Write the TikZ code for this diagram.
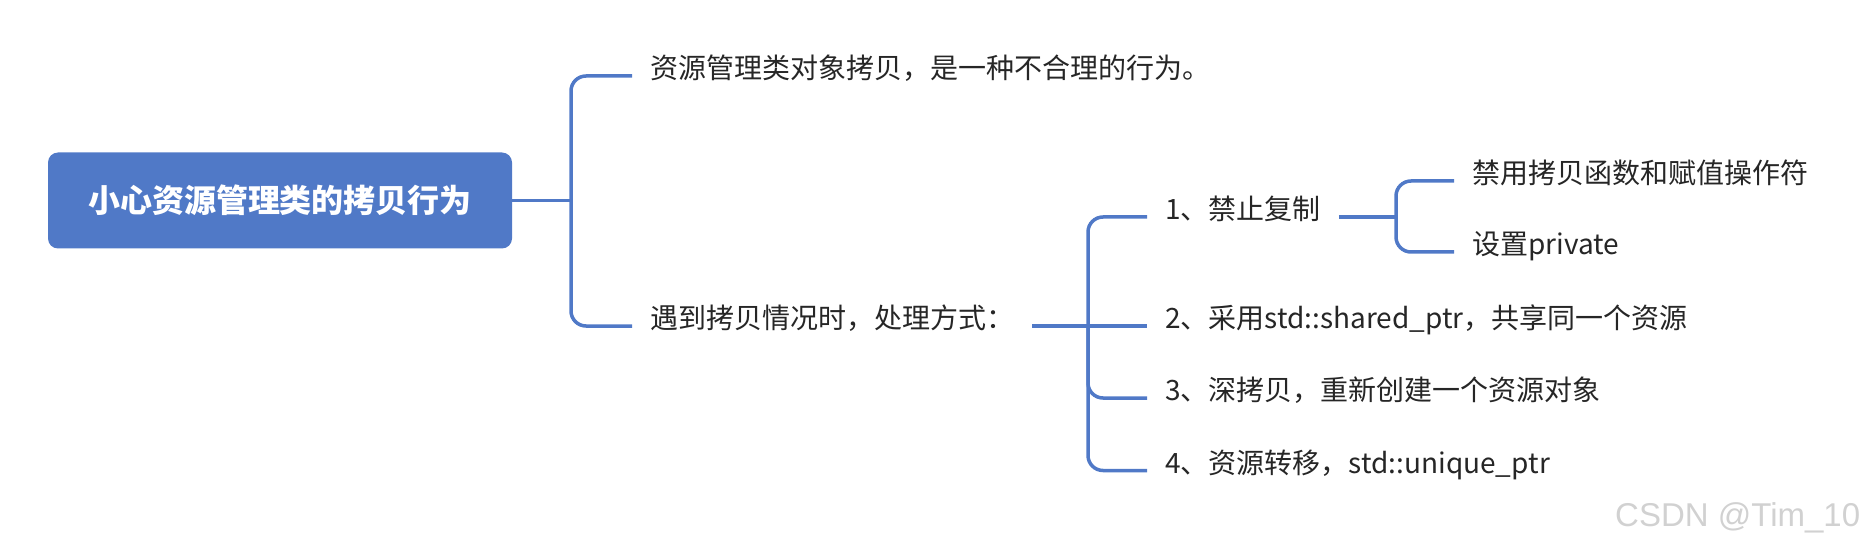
\documentclass[tikz,border=0pt]{standalone}
\usepackage{fontspec}
\setmainfont{Noto Sans CJK SC}
\newfontfamily\wmfont{Liberation Sans}
\definecolor{mapblue}{HTML}{5079C7}
\definecolor{txt}{HTML}{262626}
\tikzset{
  conn/.style={draw=mapblue, line width=3.5pt},
  rootbox/.style={fill=mapblue, rounded corners=10pt, minimum width=464pt, minimum height=96pt, inner sep=0pt,
    text=white, font=\fontsize{32}{36}\selectfont\bfseries},
  topic/.style={anchor=west, inner xsep=18pt, inner ysep=0pt, text height=0.54em, text depth=0pt,
    text=txt, font=\fontsize{28}{32}\selectfont},
  wm/.style={anchor=base west, inner sep=0pt, text=black!18, font=\wmfont\fontsize{33}{36}\selectfont}
}
\begin{document}
\begin{tikzpicture}[x=1pt,y=-1pt]
\useasboundingbox (0,0) rectangle (1872,548);
\node[rootbox] (root) at (280,200.5) {小心资源管理类的拷贝行为};
\node[topic] (t1) at (632,76) {资源管理类对象拷贝，是一种不合理的行为。};
\node[topic] (t2) at (632,326) {遇到拷贝情况时，处理方式：};
\node[topic] (c1) at (1147,217) {1、禁止复制};
\node[topic] (c2) at (1147,326) {2、采用std::shared\_ptr，共享同一个资源};
\node[topic] (c3) at (1147,398) {3、深拷贝，重新创建一个资源对象};
\node[topic] (c4) at (1147,470.5) {4、资源转移，std::unique\_ptr};
\node[topic] (d1) at (1454,181) {禁用拷贝函数和赋值操作符};
\node[topic] (d2) at (1454,252) {设置private};
\node[wm] (w) at (1615,526) {CSDN @Tim\_10};
\coordinate (j1) at (571,200.5);
\coordinate (j2) at (1088,326);
\coordinate (j3) at (1396,217);
\draw[conn] (root.east) -- (j1);
\draw[conn, rounded corners=15pt] (t1.west) -| (j1) |- (t2.west);
\draw[conn] (t2.east) -- (c2.west);
\draw[conn, rounded corners=15pt] (c1.west) -| (j2) |- (c4.west);
\draw[conn, rounded corners=15pt] (j2) |- (c3.west);
\draw[conn] (c1.east) -- (j3);
\draw[conn, rounded corners=15pt] (d1.west) -| (j3) |- (d2.west);
\end{tikzpicture}
\end{document}
